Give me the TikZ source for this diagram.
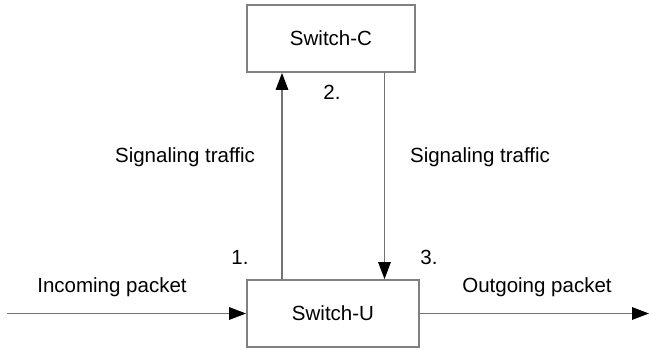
\documentclass[tikz,border=0pt]{standalone}
\usepackage{fontspec}
\setmainfont{Liberation Sans}
\usetikzlibrary{arrows.meta}
\begin{document}
\begin{tikzpicture}[x=1pt,y=-1pt,
  switchbox/.style={draw=black!50, line width=1.8pt, minimum width=#1, minimum height=67pt,
    inner sep=0pt, font=\fontsize{20.5}{24}\selectfont},
  flow/.style={draw=black!55, line width=1.4pt,
    -{Triangle[length=17pt,width=12.5pt,color=black]}},
  lbl/.style={font=\fontsize{20.5}{24}\selectfont, inner sep=0pt}]
  \useasboundingbox (0,0) rectangle (649,350);

  % the two switches
  \node[switchbox=168pt] (C) at (331,38.5) {Switch-C};
  \node[switchbox=172pt] (U) at (333,313.5) {Switch-U};

  % columns of the signaling links and ends of the packet path
  \coordinate (upcol) at (282,0);
  \coordinate (downcol) at (384.5,0);
  \coordinate (src) at (7,313.5);
  \coordinate (dst) at (649,313.5);

  % signaling traffic between the switches
  \draw[flow] (U.north -| upcol) -- (C.south -| upcol);
  \draw[flow] (C.south -| downcol) -- (U.north -| downcol);

  % packet path through Switch-U
  \draw[flow] (src) -- (U.west);
  \draw[flow] (U.east) -- (dst);

  % labels
  \node[lbl] (sigL) at (185,157) {Signaling traffic};
  \node[lbl] (sigR) at (480,157) {Signaling traffic};
  \node[lbl] (inL) at (112,287) {Incoming packet};
  \node[lbl] (outL) at (537,287) {Outgoing packet};
  \node[lbl] (n1) at (240,257) {1.};
  \node[lbl] (n2) at (332,92) {2.};
  \node[lbl] (n3) at (429,257) {3.};
\end{tikzpicture}
\end{document}
